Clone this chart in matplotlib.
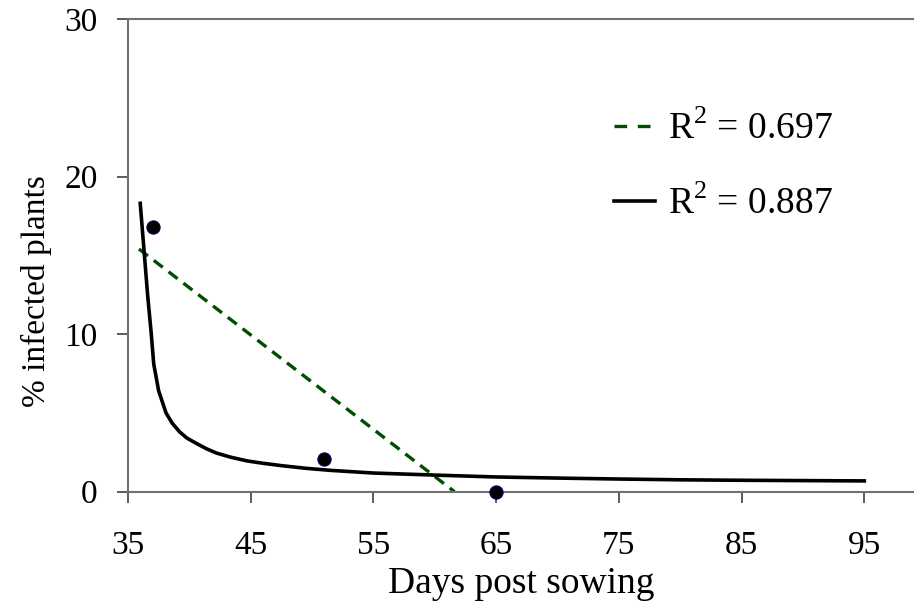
import matplotlib
matplotlib.use("Agg")
import matplotlib.pyplot as plt
from matplotlib.lines import Line2D

plt.rcParams['font.family'] = ['Liberation Serif', 'DejaVu Serif']
plt.rcParams['mathtext.fontset'] = 'custom'
plt.rcParams['mathtext.rm'] = 'Liberation Serif'

# observed points
obs_x = [37, 51, 65]
obs_y = [16.8, 2.1, 0.0]

# linear trend (dashed)
lin_x = [35.9, 61.6]
lin_y = [15.4, 0.0]

# fitted curve (solid)
fit_x = [36.0, 36.3, 36.6, 36.9, 37.1, 37.5, 38.1, 38.6, 39.2, 39.8, 40.6, 41.4,
         42.2, 43.4, 44.7, 46.0, 47.5, 49.5, 51.5, 55, 60, 65, 70, 75, 80, 85, 90, 95]
fit_y = [18.3, 15.4, 12.5, 10.0, 8.1, 6.4, 5.0, 4.35, 3.8, 3.4, 3.05, 2.72,
         2.45, 2.18, 1.95, 1.80, 1.65, 1.48, 1.35, 1.18, 1.05, 0.93, 0.86, 0.80, 0.75, 0.72, 0.70, 0.68]

r2_labels = ["R$^2$ = 0.697", "R$^2$ = 0.887"]

fig = plt.figure(figsize=(9.14, 6.13), dpi=100)
ax = fig.add_axes([0.140, 0.198, 0.860, 0.771])

ax.plot(lin_x, lin_y, color='#004d00', lw=2.4, dashes=(3.4, 2.2))
ax.plot(fit_x, fit_y, color='black', lw=2.6)
ax.plot(obs_x, obs_y, 'o', color='black', mec='#000066', mew=0.8, ms=9.5, clip_on=False, zorder=5)

ax.set_xlim(35, 99.05)
ax.set_ylim(0, 30)
ax.set_xticks([35, 45, 55, 65, 75, 85, 95])
ax.set_yticks([0, 10, 20, 30])

for s in ['left', 'top', 'bottom']:
    ax.spines[s].set_color('#707070')
    ax.spines[s].set_linewidth(1.5)
ax.spines['right'].set_visible(False)
ax.tick_params(axis='both', direction='out', length=8, width=1.2, color='#404040',
               labelsize=24)
ax.tick_params(axis='y', pad=14)
ax.tick_params(axis='x', pad=20)

ax.set_xlabel("Days post sowing", fontsize=27, labelpad=4)
ax.set_ylabel("% infected plants", fontsize=24)
ax.yaxis.set_label_coords(-0.097, 0.4235)

handles = [Line2D([], [], color='#004d00', lw=2.4, dashes=(3.8, 3.2)),
           Line2D([], [], color='black', lw=2.6)]
ax.legend(handles, r2_labels, loc='upper left', bbox_to_anchor=(0.576, 0.877),
          frameon=False, fontsize=27, handlelength=1.07, handletextpad=0.35,
          labelspacing=1.04)

fig.savefig("out.png", dpi=100)
